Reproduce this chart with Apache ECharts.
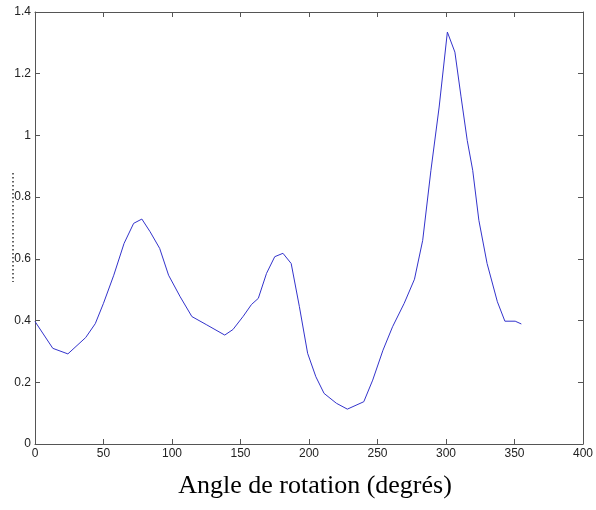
<!DOCTYPE html>
<html>
<head>
<meta charset="utf-8">
<script src="https://cdn.jsdelivr.net/npm/echarts@6/dist/echarts.min.js"></script>
<style>
html,body{margin:0;padding:0;background:#fff;}
#chart{width:596px;height:510px;}
</style>
</head>
<body>
<div id="chart"></div>
<script>
const angles = [0, 13, 24, 37, 44, 50, 57.5, 65, 72, 78, 84, 91, 97.5, 106, 114.5, 125, 138.5, 144.5, 152, 158, 163, 169, 175, 181, 187, 193, 199, 205, 211, 220, 228, 240, 246.5, 254, 261, 269.5, 277, 283, 289, 295, 301, 306.5, 311, 315.5, 319.5, 324, 330, 337.5, 343, 350.5, 355];
const values = [0.397, 0.31, 0.292, 0.345, 0.39, 0.456, 0.547, 0.65, 0.715, 0.729, 0.688, 0.634, 0.547, 0.477, 0.413, 0.387, 0.353, 0.371, 0.414, 0.452, 0.472, 0.553, 0.607, 0.618, 0.585, 0.445, 0.294, 0.218, 0.164, 0.132, 0.113, 0.137, 0.207, 0.304, 0.38, 0.456, 0.534, 0.66, 0.887, 1.092, 1.335, 1.27, 1.125, 0.984, 0.887, 0.725, 0.585, 0.461, 0.398, 0.398, 0.389];
const xLabel = 'Angle de rotation (degrés)';

const chart = echarts.init(document.getElementById('chart'), null, {renderer: 'canvas'});
const axisColor = '#555';
const lblColor = '#222';
const baseX = {
  type: 'value', min: 0, max: 400, interval: 50,
  axisLine: {show: true, onZero: false, lineStyle: {color: axisColor, width: 1}},
  axisTick: {show: true, inside: true, length: 5, lineStyle: {color: axisColor}},
  splitLine: {show: false}
};
const baseY = {
  type: 'value', min: 0, max: 1.4, interval: 0.2,
  axisLine: {show: true, onZero: false, lineStyle: {color: axisColor, width: 1}},
  axisTick: {show: true, inside: true, length: 5, lineStyle: {color: axisColor}},
  splitLine: {show: false}
};
chart.setOption({
  animation: false,
  backgroundColor: '#fff',
  grid: {left: 35, right: 12, top: 12, bottom: 66, containLabel: false},
  xAxis: [
    Object.assign({}, baseX, {
      position: 'bottom',
      axisLabel: {color: lblColor, fontFamily: 'Liberation Sans', fontSize: 12, margin: 4},
      name: xLabel, nameLocation: 'middle', nameGap: 29,
      nameTextStyle: {fontFamily: 'Liberation Serif', fontSize: 26, color: '#000', padding: [0, 0, 0, 12]}
    }),
    Object.assign({}, baseX, {position: 'top', axisLabel: {show: false}})
  ],
  yAxis: [
    Object.assign({}, baseY, {
      position: 'left',
      axisLabel: {color: lblColor, fontFamily: 'Liberation Sans', fontSize: 12, margin: 4,
        formatter: v => String(Math.round(v * 10) / 10)}
    }),
    Object.assign({}, baseY, {position: 'right', axisLabel: {show: false}})
  ],
  graphic: [{
    type: 'line', silent: true,
    shape: {x1: 13, y1: 173, x2: 13, y2: 282},
    style: {stroke: '#333', lineWidth: 1.5, lineDash: [1.5, 2.5]}
  }],
  series: [{
    type: 'line',
    data: angles.map((a, i) => [a, values[i]]),
    showSymbol: false,
    lineStyle: {color: '#3333cc', width: 1},
    xAxisIndex: 0, yAxisIndex: 0
  }]
});
</script>
</body>
</html>
